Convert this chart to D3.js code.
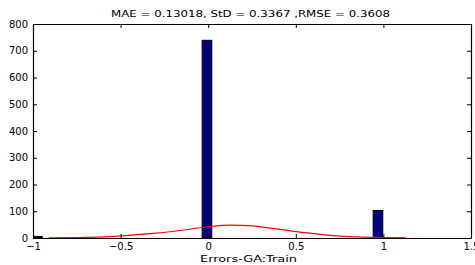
<!DOCTYPE html>
<html>
<head>
<meta charset="utf-8">
<script src="https://cdn.jsdelivr.net/npm/d3@7"></script>
<style>
  body { margin: 0; background: #fff; }
  text { font-family: "DejaVu Sans", "Liberation Sans", Arial, sans-serif; }
</style>
</head>
<body>
<div id="chart"></div>
<script>
// histogram bins (centers) and counts
const binCenters = [-0.975, -0.007, 0.969];
const binCounts = [6, 739, 103];
const binWidth = 0.055;

// fitted normal curve
const fitX = [-0.91, -0.75, -0.6, -0.45, -0.3, -0.15, 0, 0.13, 0.25, 0.4, 0.55, 0.7, 0.85, 1.0, 1.13];
const fitY = [0.5, 1.5, 4, 10, 18, 29, 42, 48, 45, 33, 20, 10, 4, 1.5, 0.5];

const xTicks = [-1, -0.5, 0, 0.5, 1, 1.5];
const yTicks = [0, 100, 200, 300, 400, 500, 600, 700, 800];

const titleText = "MAE = 0.13018, StD = 0.3367 ,RMSE = 0.3608";
const xLabel = "Errors-GA:Train";

const width = 475;
const height = 265;
const margins = { top: 24, left: 33, right: 4, bottom: 27 };
const tickLen = 4;

const svg = d3.select("#chart")
    .append("svg")
        .attr("width", width)
        .attr("height", height);

const x = d3.scaleLinear()
    .domain([-1, 1.5])
    .range([margins.left, width - margins.right]);

const y = d3.scaleLinear()
    .domain([0, 800])
    .range([height - margins.bottom, margins.top]);

// clip so the first bar is cut at the axis
svg.append("clipPath")
    .attr("id", "plotClip")
    .append("rect")
        .attr("x", x(-1))
        .attr("y", y(800))
        .attr("width", x(1.5) - x(-1))
        .attr("height", y(0) - y(800));

const plot = svg.append("g").attr("clip-path", "url(#plotClip)");

// bars
plot.selectAll("rect.bar")
    .data(binCenters)
    .join("rect")
        .attr("class", "bar")
        .attr("x", d => x(d - binWidth / 2))
        .attr("y", (d, i) => y(binCounts[i]))
        .attr("width", d => x(d + binWidth / 2) - x(d - binWidth / 2))
        .attr("height", (d, i) => y(0) - y(binCounts[i]))
        .attr("fill", "#000080")
        .attr("stroke", "#000")
        .attr("stroke-width", 1);

// fit curve
const line = d3.line()
    .x((d, i) => x(fitX[i]))
    .y(d => y(d))
    .curve(d3.curveMonotoneX);

plot.append("path")
    .datum(fitY)
    .attr("d", line)
    .attr("fill", "none")
    .attr("stroke", "#ff0000")
    .attr("stroke-width", 1.2);

// axes, matlab style: ticks point inwards on all four sides
const axisBottom = svg.append("g")
    .attr("transform", `translate(0, ${y(0)})`)
    .call(d3.axisBottom(x).tickValues(xTicks).tickSizeInner(-tickLen).tickSizeOuter(0).tickPadding(5).tickFormat(d3.format("")));

const axisTop = svg.append("g")
    .attr("transform", `translate(0, ${y(800)})`)
    .call(d3.axisTop(x).tickValues(xTicks).tickSizeInner(-tickLen).tickSizeOuter(0).tickFormat(""));

const axisLeft = svg.append("g")
    .attr("transform", `translate(${x(-1)}, 0)`)
    .call(d3.axisLeft(y).tickValues(yTicks).tickSizeInner(-tickLen).tickSizeOuter(0).tickPadding(5));

const axisRight = svg.append("g")
    .attr("transform", `translate(${x(1.5)}, 0)`)
    .call(d3.axisRight(y).tickValues(yTicks).tickSizeInner(-tickLen).tickSizeOuter(0).tickFormat(""));

[axisBottom, axisTop, axisLeft, axisRight].forEach(a => {
    a.select(".domain").attr("stroke", "#000").attr("stroke-width", 1.2);
    a.selectAll(".tick line").attr("stroke", "#000");
    a.selectAll("text")
        .attr("fill", "#000")
        .style("font-size", "10px")
        .style("font-family", "'DejaVu Sans', 'Liberation Sans', Arial, sans-serif");
});

// title and x label, stretched a bit like the matlab export
svg.append("text")
    .attr("x", 250.5)
    .attr("y", 17)
    .attr("text-anchor", "middle")
    .attr("textLength", 279)
    .attr("lengthAdjust", "spacingAndGlyphs")
    .style("font-size", "9.5px")
    .text(titleText);

svg.append("text")
    .attr("x", 248.5)
    .attr("y", 262)
    .attr("text-anchor", "middle")
    .attr("textLength", 97)
    .attr("lengthAdjust", "spacingAndGlyphs")
    .style("font-size", "9.5px")
    .text(xLabel);
</script>
</body>
</html>
